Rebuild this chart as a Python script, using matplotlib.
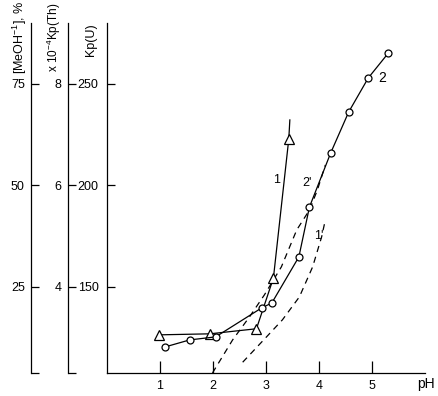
import matplotlib
matplotlib.use("Agg")
import matplotlib.pyplot as plt

plt.rcParams['font.family'] = ['Liberation Sans', 'DejaVu Sans']
plt.rcParams['mathtext.fontset'] = 'custom'
plt.rcParams['mathtext.rm'] = 'Liberation Sans'
plt.rcParams['mathtext.default'] = 'regular'

# curve 1 (triangles), last point is the line end without marker
ph_1 = [0.99, 1.94, 2.82, 3.14, 3.43, 3.45]
kp_1 = [126.3, 126.8, 129.3, 154.3, 222.8, 232.2]

# curve 2 (circles)
ph_2 = [1.09, 1.56, 2.05, 2.92, 3.11, 3.62, 3.82, 4.22, 4.56, 4.93, 5.31]
kp_2 = [120.3, 123.8, 125.3, 139.6, 142.0, 164.7, 189.3, 215.9, 236.1, 252.9, 265.2]

# dashed curves 2' and 1'
ph_2d = [1.99, 2.37, 2.69, 2.97, 3.29, 3.58, 3.82, 3.97, 4.12]
kp_2d = [107.5, 123.8, 135.2, 146.0, 159.8, 178.0, 187.8, 197.7, 210.0]
ph_1d = [2.56, 3.01, 3.31, 3.63, 3.88, 4.05, 4.12]
kp_1d = [112.8, 125.3, 133.7, 145.0, 159.8, 174.6, 183.0]

ph_ticks = [1, 2, 3, 4, 5]
u_ticks = [150, 200, 250]
th_ticks = [4, 6, 8]
meoh_ticks = [25, 50, 75]

u_lim = (107.5, 280.0)
th_lim = (2.30, 9.20)
meoh_lim = (3.8, 90.0)

fig = plt.figure(figsize=(4.38, 3.96), dpi=100)
ax = fig.add_axes([0.2443, 0.0581, 0.726, 0.884])
lw = 0.9

ax.plot(ph_2d, kp_2d, color='black', lw=lw, dashes=(5, 4))
ax.plot(ph_1d, kp_1d, color='black', lw=lw, dashes=(5, 4))
ax.plot(ph_1, kp_1, color='black', lw=lw, marker='^', ms=7, mfc='white',
        mec='black', mew=lw, markevery=list(range(len(ph_1) - 1)))
ax.plot(ph_2, kp_2, color='black', lw=lw, marker='o', ms=5, mfc='white',
        mec='black', mew=lw)

ax.text(3.20, 202.4, '1', fontsize=9, ha='center', va='center')
ax.text(3.78, 201.1, "2'", fontsize=9, ha='center', va='center')
ax.text(4.00, 175.1, "1'", fontsize=9, ha='center', va='center')
ax.text(5.20, 252.9, '2', fontsize=10, ha='center', va='center')

ax.set_xlim(0, 6)
ax.set_ylim(*u_lim)
ax.set_xticks(ph_ticks)
ax.set_yticks(u_ticks)
ax.spines['top'].set_visible(False)
ax.spines['right'].set_visible(False)
for s in ('left', 'bottom'):
    ax.spines[s].set_linewidth(lw)
ax.tick_params(axis='x', direction='in', length=8.5, width=lw, pad=5, labelsize=9)
ax.tick_params(axis='y', direction='in', length=6, width=lw, pad=6, labelsize=9)
fig.text(0.973, 0.03, 'pH', fontsize=10, ha='center', va='center')


def side_axis(offset_pt, lim, ticks):
    tw = ax.twinx()
    tw.set_ylim(*lim)
    tw.yaxis.set_ticks_position('left')
    tw.yaxis.set_label_position('left')
    tw.spines['left'].set_position(('outward', offset_pt))
    tw.spines['left'].set_visible(True)
    tw.spines['left'].set_linewidth(lw)
    for s in ('top', 'right', 'bottom'):
        tw.spines[s].set_visible(False)
    tw.set_yticks(ticks)
    tw.set_yticks([lim[0]], minor=True)
    tw.tick_params(axis='y', which='both', direction='in', length=6, width=lw,
                   pad=4.5, labelsize=9)
    return tw


side_axis(28.1, th_lim, th_ticks)
side_axis(54.7, meoh_lim, meoh_ticks)

fig.text(0.0457, 0.9066, '[MeOH$^{-1}$], %', rotation=90, fontsize=9,
         ha='center', va='center')
fig.text(0.1233, 0.906, 'x 10$^{-4}$Kp(Th)', rotation=90, fontsize=8.5,
         ha='center', va='center')
fig.text(0.2078, 0.899, 'Kp(U)', rotation=90, fontsize=9,
         ha='center', va='center')

fig.savefig('out.png', dpi=100, facecolor='white')
